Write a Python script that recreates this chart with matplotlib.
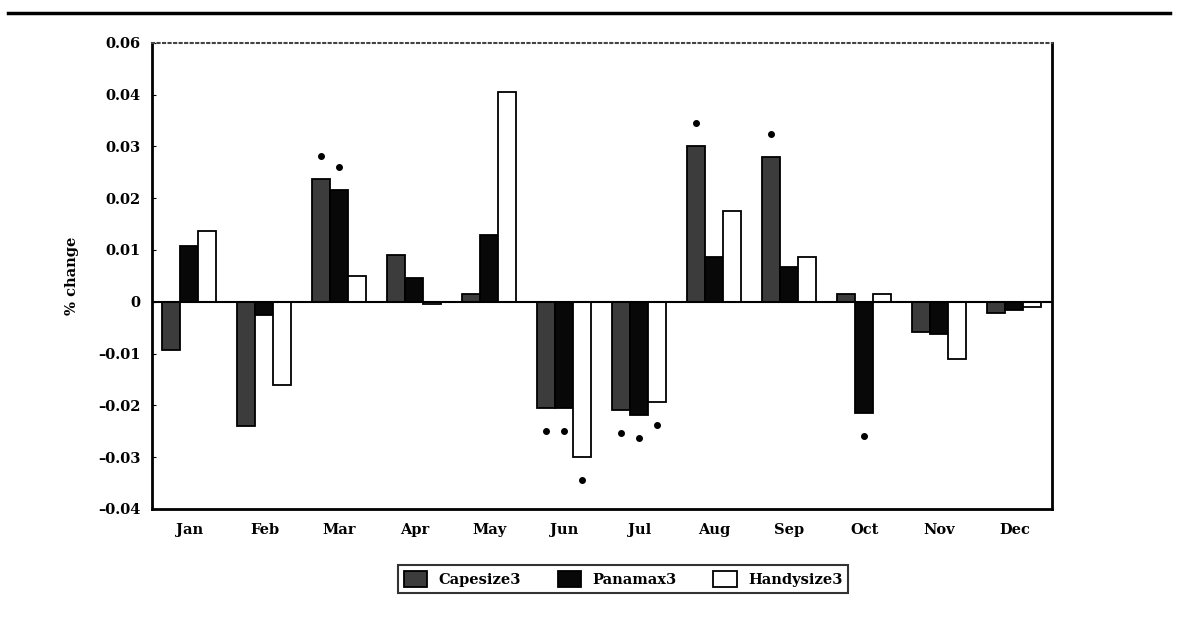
import numpy as np
import matplotlib
matplotlib.use("Agg")
import matplotlib.pyplot as plt
from matplotlib.lines import Line2D

plt.rcParams['font.family'] = ['DejaVu Serif']
plt.rcParams['font.weight'] = 'bold'

# monthly % change per vessel class
months = ['Jan', 'Feb', 'Mar', 'Apr', 'May', 'Jun', 'Jul', 'Aug', 'Sep', 'Oct', 'Nov', 'Dec']
capesize = [-0.0093, -0.024, 0.0237, 0.009, 0.0015, -0.0205, -0.0209, 0.0301, 0.028, 0.0014, -0.0058, -0.0021]
panamax = [0.0107, -0.0025, 0.0215, 0.0045, 0.0128, -0.0205, -0.0218, 0.0087, 0.0068, -0.0215, -0.0062, -0.0015]
handysize = [0.0137, -0.016, 0.005, -0.0005, 0.0405, -0.030, -0.0193, 0.0176, 0.0087, 0.0014, -0.011, -0.001]

# significance markers (1 = dot next to bar)
sig_cape = [0, 0, 1, 0, 0, 1, 1, 1, 1, 0, 0, 0]
sig_pana = [0, 0, 1, 0, 0, 1, 1, 0, 0, 1, 0, 0]
sig_handy = [0, 0, 0, 0, 0, 1, 1, 0, 0, 0, 0, 0]

yticks = [-0.04, -0.03, -0.02, -0.01, 0, 0.01, 0.02, 0.03, 0.04, 0.05]
ytick_labels = ['\u20130.04', '\u20130.03', '\u20130.02', '\u20130.01', '0', '0.01', '0.02', '0.03', '0.04', '0.06']

fig = plt.figure(figsize=(11.78, 6.22), dpi=100)
ax = fig.add_axes([0.129, 0.182, 0.764, 0.749])

x = np.arange(len(months))
w = 0.24
series = [
    (capesize, sig_cape, -w, '#3c3c3c', 'Capesize3'),
    (panamax, sig_pana, 0, '#080808', 'Panamax3'),
    (handysize, sig_handy, w, 'white', 'Handysize3'),
]
for vals, sig, off, col, lab in series:
    ax.bar(x + off, vals, width=w, color=col, edgecolor='black', linewidth=1.3, label=lab)
    for i in range(len(vals)):
        if sig[i]:
            y = vals[i] + (0.0045 if vals[i] > 0 else -0.0045)
            ax.plot(x[i] + off, y, 'o', color='black', markersize=4)

ax.axhline(0, color='black', linewidth=1.5)
ax.set_xlim(-0.5, 11.5)
ax.set_ylim(-0.04, 0.05)
ax.set_yticks(yticks)
ax.set_yticklabels(ytick_labels)
ax.set_xticks(x)
ax.set_xticklabels(months)
ax.tick_params(axis='x', length=0, pad=10, labelsize=10.5)
ax.tick_params(axis='y', length=3, direction='in', labelsize=10.5, pad=8)
ax.set_ylabel('% change', fontsize=10.5, fontweight='bold', labelpad=14)

for s in ['left', 'bottom', 'right']:
    ax.spines[s].set_linewidth(2)
ax.spines['top'].set_linestyle(':')
ax.spines['top'].set_color('#444444')
ax.spines['top'].set_linewidth(1.5)

# rule across top of page
fig.add_artist(Line2D([0.007, 0.993], [0.979, 0.979], color='black', linewidth=2.5))

leg = fig.legend(loc='center', bbox_to_anchor=(0.529, 0.069), ncol=3, frameon=True,
                 fancybox=False, edgecolor='black', fontsize=10.5, handlelength=1.6,
                 handleheight=1.3, columnspacing=2.5, borderpad=0.4)
leg.get_frame().set_linewidth(1.5)

fig.savefig('out.png', dpi=100)
